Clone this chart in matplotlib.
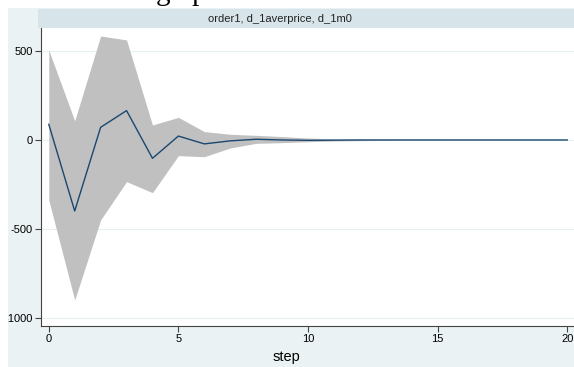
import matplotlib.pyplot as plt
from matplotlib.patches import Rectangle

# irf values
step = list(range(21))
irf = [88, -399, 71, 165, -103, 22, -22, -5, 4, 0, -2, -1, 0, 0, 0, 0, 0, 0, 0, 0, 0]
upper = [505, 108, 584, 562, 84, 127, 47, 32, 26, 19, 11, 6, 4, 2, 1, 1, 0.5, 0.5, 0.3, 0.2, 0.2]
lower = [-337, -899, -449, -234, -296, -88, -94, -45, -19, -15, -10, -6, -4, -2, -1, -1, -0.5, -0.5, -0.3, -0.2, -0.2]

title = "order1, d_1averprice, d_1m0"
yticks = [500, 0, -500, -1000]
xticks = [0, 5, 10, 15, 20]

W, H = 574, 367
bg = "#eaf2f3"
strip_col = "#d7e5ea"
navy = "#1a476f"
band = "#c0c0c0"

plt.rcParams['font.family'] = ['Liberation Sans', 'DejaVu Sans']

fig = plt.figure(figsize=(W / 100, H / 100), dpi=100)
fig.patch.set_facecolor("white")

# graph region background (cropped from a larger picture)
fig.patches.append(Rectangle((8 / W, 0), 1, (H - 8) / H, transform=fig.transFigure,
                             facecolor=bg, edgecolor="none", zorder=-2))
# subtitle strip
fig.patches.append(Rectangle((38 / W, (H - 28) / H), 1, 19 / H, transform=fig.transFigure,
                             facecolor=strip_col, edgecolor="none", zorder=-1))
fig.text(280 / W, (H - 18.5) / H, title, ha="center", va="center", fontsize=8, color="#222222")

# cut-off heading from the page above
fig.text(156 / W, 1.0, "graph", ha="left", va="baseline", fontsize=21,
         family="Liberation Serif", color="black")

ax = fig.add_axes([41 / W, (H - 326) / H, 533 / W, 298 / H])
ax.set_zorder(5)
ax.set_facecolor("white")
ax.fill_between(step, lower, upper, color=band, lw=0, zorder=2)
ax.plot(step, irf, color=navy, lw=1, zorder=3)

ax.set_xlim(-0.3, 20.26)
ax.set_ylim(-1045, 629)
ax.set_xticks(xticks)
ax.set_yticks(yticks)
ax.set_yticklabels([str(v) for v in yticks])
ax.tick_params(labelsize=8, length=4, width=0.8, color="#444444", pad=2)
ax.grid(axis="y", color="#e6eff1", lw=0.8, zorder=1)
ax.set_axisbelow(True)
for s in ["top", "right"]:
    ax.spines[s].set_visible(False)
for s in ["left", "bottom"]:
    ax.spines[s].set_color("#444444")
    ax.spines[s].set_linewidth(0.8)

fig.text(286 / W, (H - 357) / H, "step", ha="center", va="center", fontsize=10.5)

# white margin at the far left hides the minus sign, as in the crop
fig.patches.append(Rectangle((0, 0), 8 / W, 1, transform=fig.transFigure,
                             facecolor="white", edgecolor="none", zorder=10))

fig.savefig("out.png", dpi=100)
